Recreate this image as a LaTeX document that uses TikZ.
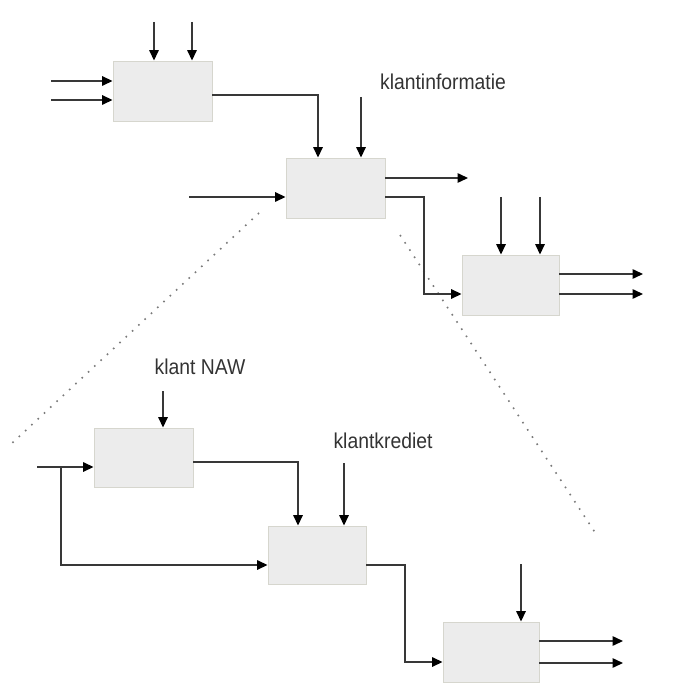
\documentclass[tikz,border=0pt]{standalone}
\usepackage{fontspec}
\setmainfont{Liberation Sans}
\newfontfamily\lblfont[FakeStretch=0.9]{Liberation Sans}
\usetikzlibrary{arrows.meta}
\definecolor{boxfill}{HTML}{ECECEC}
\definecolor{boxline}{HTML}{D6D6CE}
\definecolor{wire}{HTML}{383838}
\definecolor{labeltext}{HTML}{333333}
\definecolor{dots}{HTML}{7A7A7A}
\tikzset{
  actbox/.style={draw=boxline, fill=boxfill, line width=0.9pt, minimum width=#1, minimum height=60pt, inner sep=0pt},
  arr/.style={draw=wire, line width=1.5pt, -{Triangle[length=10.5pt,width=9.5pt,fill=black,color=black]}},
  zoomline/.style={draw=dots, line width=1.6pt, dash pattern=on 1.6pt off 7pt},
  lbl/.style={text=labeltext, font=\lblfont\fontsize{21.5}{24}\selectfont, inner sep=0pt}
}
\begin{document}
\begin{tikzpicture}[x=1pt,y=-1pt]
\useasboundingbox (0,0) rectangle (681,700);

% upper process chain
\node[actbox=99pt] (b1) at (162.5,91) {};
\node[actbox=99pt] (b2) at (335.5,188) {};
\node[actbox=97pt] (b3) at (510.5,285) {};

% lower, detailed chain
\node[actbox=99pt, minimum height=59pt] (b4) at (143.5,457.5) {};
\node[actbox=98pt, minimum height=58pt] (b5) at (317,555) {};
\node[actbox=96pt] (b6) at (491,652) {};

% zoom guides
\coordinate (d1a) at (259,213);
\coordinate (d1b) at (9,446);
\coordinate (d2a) at (400,235);
\coordinate (d2b) at (598,537);
\draw[zoomline] (d1a) -- (d1b);
\draw[zoomline] (d2a) -- (d2b);

% box 1
\coordinate (i1a) at (51,81);
\coordinate (i1b) at (51,100);
\coordinate (c1a) at (154,22);
\coordinate (c1b) at (192,22);
\draw[arr] (i1a) -- (i1a -| b1.west);
\draw[arr] (i1b) -- (i1b -| b1.west);
\draw[arr] (c1a) -- (c1a |- b1.north);
\draw[arr] (c1b) -- (c1b |- b1.north);

% box 1 -> box 2
\coordinate (k1) at (318,95);
\draw[arr] (k1 -| b1.east) -- (k1) -- (k1 |- b2.north);

% box 2
\coordinate (c2) at (361,97);
\coordinate (i2) at (189,197);
\coordinate (o2a) at (468,178);
\draw[arr] (c2) -- (c2 |- b2.north);
\draw[arr] (i2) -- (i2 -| b2.west);
\draw[arr] (o2a -| b2.east) -- (o2a);
\node[lbl] (t1) at (443,82) {klantinformatie};

% box 2 -> box 3
\coordinate (k2) at (424,197);
\coordinate (k2b) at (424,294);
\draw[arr] (k2 -| b2.east) -- (k2) -- (k2b) -- (k2b -| b3.west);

% box 3
\coordinate (c3a) at (501,197);
\coordinate (c3b) at (540,197);
\coordinate (o3a) at (643,274);
\coordinate (o3b) at (643,294);
\draw[arr] (c3a) -- (c3a |- b3.north);
\draw[arr] (c3b) -- (c3b |- b3.north);
\draw[arr] (o3a -| b3.east) -- (o3a);
\draw[arr] (o3b -| b3.east) -- (o3b);

% box 4
\node[lbl] (t2) at (200,367) {klant NAW};
\coordinate (c4) at (163,391);
\coordinate (i4) at (37,467);
\coordinate (j4) at (61,467);
\coordinate (j4b) at (61,565);
\draw[arr] (c4) -- (c4 |- b4.north);
\draw[arr] (i4) -- (i4 -| b4.west);
\draw[arr] (j4) -- (j4b) -- (j4b -| b5.west);

% box 4 -> box 5
\coordinate (k4) at (298,462);
\draw[arr] (k4 -| b4.east) -- (k4) -- (k4 |- b5.north);

% box 5
\node[lbl] (t3) at (383,441) {klantkrediet};
\coordinate (c5) at (344,463);
\draw[arr] (c5) -- (c5 |- b5.north);

% box 5 -> box 6
\coordinate (k5) at (405,565);
\coordinate (k5b) at (405,662);
\draw[arr] (k5 -| b5.east) -- (k5) -- (k5b) -- (k5b -| b6.west);

% box 6
\coordinate (c6) at (521,564);
\coordinate (o6a) at (623,641);
\coordinate (o6b) at (623,663);
\draw[arr] (c6) -- (c6 |- b6.north);
\draw[arr] (o6a -| b6.east) -- (o6a);
\draw[arr] (o6b -| b6.east) -- (o6b);
\end{tikzpicture}
\end{document}
